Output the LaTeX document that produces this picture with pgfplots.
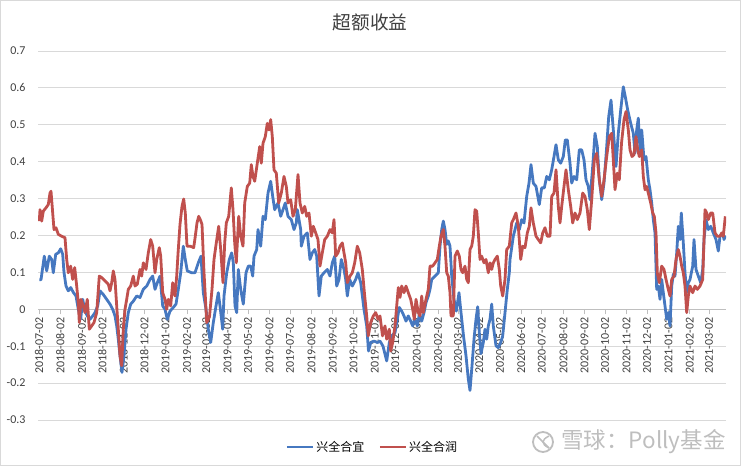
\documentclass[border=0pt]{standalone}
\usepackage{fontspec}
\setmainfont{Carlito}
\newfontfamily\cjk{Noto Sans CJK SC}
\usepackage{pgfplots}
\pgfplotsset{compat=1.18}
\usepackage{pgfplotstable}
\definecolor{sblue}{RGB}{70,120,192}
\definecolor{sred}{RGB}{192,80,77}
\definecolor{gridc}{RGB}{217,217,217}
\definecolor{axc}{RGB}{191,191,191}
\definecolor{txt}{RGB}{64,64,64}
\definecolor{wm}{RGB}{190,190,190}

% x = position along the time axis (2018-07-02 = 0; 1 unit = 1.4537 days)
\pgfplotstableread{
x y
0.3 0.080
2 0.080
5.3 0.144
7.7 0.104
10.3 0.144
12.7 0.135
14.3 0.099
16.7 0.149
19.3 0.153
21.7 0.164
23.7 0.149
25 0.100
27 0.063
29.3 0.050
31.7 0.059
34.3 0.046
37 0.036
39.3 0.000
41.7 -0.027
43.7 0.027
46 -0.005
48.3 -0.018
51 -0.027
53.7 -0.018
56 -0.009
58.7 0.009
61 0.050
64.3 0.040
67.7 0.027
71 0.014
73.7 0.000
76 -0.018
77.7 -0.045
79.3 -0.081
81 -0.126
83 -0.171
85 -0.126
87 -0.054
89.3 -0.009
91.7 0.014
94.3 0.022
97.7 0.036
101 0.032
104.3 0.054
107.7 0.063
111 0.081
113.7 0.090
116 0.054
118.3 0.072
121 0.090
123.7 0.009
126 0.000
128.3 -0.027
131 -0.005
134.3 0.005
137 0.014
139.3 0.054
141.7 0.099
144.3 0.171
146.3 0.135
148.3 0.104
152.7 0.099
156 0.099
159.3 0.126
162 0.144
164.3 0.045
167 0.000
169.3 -0.054
171.7 -0.090
174.3 -0.036
177 0.009
179.3 0.045
181 0.009
183.7 -0.054
185 0.036
187.7 0.099
190.3 0.135
192.7 0.153
194.3 0.126
196 0.009
197.7 -0.009
199.3 0.108
201.7 0.054
204.3 0.014
207 0.099
209.3 0.117
211.7 0.117
213.7 0.090
215 0.144
217.7 0.162
219 0.216
221.7 0.171
224 0.252
226.3 0.243
229 0.315
231.7 0.347
233.7 0.306
235.7 0.270
239 0.288
241.7 0.252
244 0.270
246.3 0.288
249 0.252
252.3 0.243
255 0.216
257.3 0.234
258.3 0.270
261.7 0.216
262.3 0.171
265 0.198
268.3 0.207
271 0.135
273.3 0.153
275.7 0.162
277.7 0.144
280 0.036
282.3 0.090
285 0.099
288.3 0.108
291 0.090
293.3 0.126
295.7 0.144
297.7 0.063
300 0.081
302.3 0.135
305 0.108
306.7 0.081
308.3 0.036
310.7 0.081
313.3 0.063
316.7 0.081
319 0.099
321.7 0.072
325 0.000
327.7 -0.045
329.5 -0.113
331.7 -0.090
335 -0.086
338.3 -0.090
341 -0.086
344 -0.100
347.7 -0.140
350.3 -0.090
352.7 -0.072
356 -0.063
358.3 -0.027
360.3 0.005
362.7 -0.005
365 -0.018
367 -0.032
369.3 -0.018
371.7 -0.032
373.7 -0.045
376 -0.027
378.3 -0.045
380.3 -0.014
382.7 -0.032
385 -0.009
387 0.018
389.3 0.036
391 0.054
392.7 0.081
396 0.090
399.3 0.099
401 0.171
402.7 0.216
404.3 0.239
406 0.216
407.7 0.176
409.3 0.185
411 0.171
412.7 0.090
415 0.027
417.3 -0.005
420 0.045
422 -0.009
424.5 -0.072
427 -0.126
429.3 -0.189
431 -0.220
433 -0.153
435 -0.081
437 -0.027
438.7 0.007
440.3 -0.063
442 -0.120
444.3 -0.090
446 -0.054
447.7 -0.081
449.3 -0.045
451 -0.027
452.7 0.014
454.3 -0.045
457 -0.099
459.3 -0.104
461.7 -0.090
463.7 -0.072
466 -0.009
468.3 0.054
470.3 0.099
471 0.135
474.3 0.198
477.7 0.234
480.3 0.216
482.7 0.243
485 0.234
487.7 0.306
490 0.342
492 0.392
494.3 0.342
497 0.333
500.3 0.284
502.7 0.329
505.3 0.329
507.7 0.360
510.3 0.351
512.7 0.378
515 0.414
517 0.446
519.3 0.405
521.7 0.396
524.3 0.414
526.3 0.459
528.3 0.459
531 0.396
532.7 0.342
535 0.360
537.7 0.351
540.3 0.432
542.7 0.432
545 0.405
547 0.351
549.3 0.333
551 0.297
553.7 0.387
556 0.477
558.3 0.441
560.3 0.351
562.7 0.297
565 0.342
567.7 0.441
569.7 0.522
572 0.567
574.3 0.486
577 0.387
579.3 0.477
581.7 0.540
584.3 0.603
586.3 0.576
588.7 0.540
591.7 0.504
594.3 0.477
596 0.423
597.7 0.486
599.3 0.518
601 0.432
602.7 0.486
605 0.405
607 0.414
609.3 0.351
611 0.324
612.7 0.288
614.3 0.243
616 0.207
617.7 0.054
619.3 0.063
621 0.027
622.7 0.081
624.3 0.045
626 0.009
627.7 -0.027
629.3 -0.009
631 -0.045
632.7 0.063
634.3 0.095
636 0.090
637.7 0.153
639.3 0.225
641 0.189
642.3 0.261
644.3 0.180
646 0.099
647.7 0.045
649.3 0.072
651 0.081
653.7 0.117
655 0.189
657 0.108
659.3 0.090
661.7 0.072
663.7 0.108
665 0.189
667 0.243
669.3 0.216
671.7 0.225
674.3 0.207
677 0.189
679.3 0.158
681 0.198
683.7 0.207
685 0.189
686.5 0.200
}\bluedata

\pgfplotstableread{
x y
0.3 0.239
1 0.270
2.7 0.239
4.3 0.266
7 0.275
9.3 0.284
11 0.315
12 0.320
13.7 0.261
15 0.216
17 0.221
19.3 0.203
22.7 0.198
26 0.194
27.7 0.135
29.3 0.099
31.7 0.117
33.7 0.081
35.7 0.113
37.7 0.063
39.3 0.018
40.3 -0.036
42 0.027
44.3 0.009
46 -0.009
48.3 0.027
50.3 -0.054
52.7 -0.045
55 -0.036
57.7 -0.009
60.3 0.090
62.7 0.086
66 0.077
69.3 0.068
71 0.050
72.7 0.072
74.3 0.104
76 0.081
77.7 0.009
79.3 -0.054
81 -0.126
82.7 -0.153
84.3 -0.054
86 0.000
87.7 0.027
89.3 0.054
91.7 0.063
94.3 0.090
96 0.063
98.3 0.068
101 0.108
102.7 0.090
104.3 0.126
107 0.108
109.3 0.153
111.7 0.189
113.7 0.171
116 0.099
117.7 0.135
120.3 0.167
121.7 0.144
123.7 0.045
126 0.027
127.7 0.000
129.3 0.027
131.7 0.009
133.7 0.072
136 0.036
137.7 0.090
139 0.150
141 0.230
143 0.279
144.7 0.299
146.3 0.261
148 0.171
151.3 0.171
154.7 0.167
156.3 0.198
158 0.234
159.7 0.252
161.3 0.243
163 0.230
165 0.100
166.3 0.036
167.7 -0.036
170.5 -0.020
173 0.054
175 0.135
177.3 0.180
179.7 0.225
181.7 0.162
184 0.072
185.7 0.180
187.3 0.234
189.7 0.252
192.3 0.329
194 0.270
195.7 0.180
197.3 0.126
199.7 0.252
201.7 0.198
204 0.171
205.7 0.288
208.3 0.333
210.7 0.342
212.3 0.392
214 0.360
215.7 0.347
218.3 0.396
220.7 0.441
222.3 0.396
224 0.450
226.3 0.468
228.3 0.504
230 0.486
231.7 0.514
233.3 0.468
235 0.378
237.3 0.369
239.7 0.288
242.3 0.315
245 0.360
247.3 0.333
249 0.288
251.7 0.297
254 0.252
256.3 0.270
259 0.365
261 0.288
263.3 0.261
265.7 0.279
267.7 0.252
270 0.261
272.3 0.198
274.3 0.225
276.7 0.207
279 0.189
281 0.117
283.3 0.153
285.7 0.189
288.3 0.198
291 0.216
293.3 0.207
295 0.243
296.7 0.144
299 0.153
301 0.171
303.3 0.180
305 0.153
306.7 0.126
308.3 0.072
311 0.090
313.3 0.099
315.7 0.126
318.3 0.171
320.7 0.153
323.3 0.108
325.7 0.036
327.7 -0.018
329.3 -0.072
331.7 -0.036
334.3 -0.018
336.7 -0.009
339 -0.027
341 -0.018
343.5 -0.072
346 -0.045
347.7 -0.081
350.3 -0.054
351.7 -0.113
353.7 -0.090
356 -0.045
357.7 0.009
359.3 0.059
361 0.032
362.7 0.063
365 0.045
367 0.063
369.3 0.045
371.7 0.027
373.7 0.000
375.3 -0.027
377 0.027
379.3 -0.009
381 -0.018
382.7 0.036
384.3 -0.009
387 0.027
389.3 0.054
391 0.117
393.7 0.117
396 0.126
398.3 0.135
400.3 0.171
402 0.198
404.3 0.216
406 0.171
407.7 0.099
409.3 0.090
411 0.045
412 -0.018
414.3 -0.018
416 0.144
418.3 0.158
420.3 0.144
422 0.108
423.7 0.099
426 0.117
427.7 0.081
429.3 0.072
431 0.162
432.7 0.171
434.3 0.198
436 0.270
437.7 0.266
439.3 0.207
441 0.135
442.7 0.144
445 0.126
447 0.135
449.3 0.099
451 0.126
452.7 0.108
454.3 0.126
456 0.135
458.3 0.144
460.3 0.108
461.7 0.063
463.7 0.036
466 0.081
467.7 0.162
470.3 0.171
472.7 0.234
474.3 0.243
477 0.261
479.3 0.225
481.7 0.135
483.7 0.171
486 0.167
488.3 0.207
490.3 0.225
492 0.275
494.3 0.234
497 0.198
499.3 0.189
501.7 0.180
503.7 0.207
506 0.221
508.3 0.198
511 0.198
512.7 0.306
515 0.315
517 0.378
519.3 0.279
521 0.234
522.7 0.279
525 0.333
527 0.378
529.3 0.324
531.7 0.279
533.7 0.234
536 0.261
538.3 0.243
541 0.261
543.7 0.315
546 0.306
548.3 0.270
550.3 0.216
552.7 0.297
555.3 0.405
557.7 0.423
560.3 0.351
562.7 0.306
565 0.351
567.7 0.414
570.3 0.468
572.7 0.477
574.3 0.405
576 0.324
578.3 0.369
580.3 0.351
582.5 0.450
585 0.514
587 0.536
589.3 0.486
591 0.432
593 0.414
595 0.419
597 0.468
598.7 0.432
600.3 0.414
602.7 0.432
604.3 0.360
606 0.324
607.7 0.333
609.3 0.315
611.7 0.288
613.7 0.261
615.3 0.252
617 0.207
618.3 0.099
620.3 0.072
622.7 0.117
625 0.108
627 0.081
629.3 0.054
631 0.036
632.7 0.081
635 0.090
637 0.135
639.3 0.162
641 0.144
642.7 0.117
644.3 0.099
646 0.063
647.7 -0.009
649.3 0.036
651 0.063
653.7 0.045
656 0.063
658.3 0.054
661 0.063
663.7 0.081
666 0.270
667.7 0.261
669.3 0.243
671.7 0.261
673.7 0.261
676 0.207
678.3 0.198
681 0.198
682.7 0.207
684.3 0.198
686.3 0.252
}\reddata

\begin{document}
\begin{tikzpicture}[x=1pt,y=1pt]
\useasboundingbox (0,0) rectangle (741,466);
\draw[gridc, line width=0.8pt] (0.5,0.5) rectangle (740.5,465.5);
\begin{axis}[
  at={(38pt,46pt)}, anchor=south west,
  scale only axis, width=688pt, height=369pt,
  xmin=-1, xmax=687, ymin=-0.3, ymax=0.7,
  axis x line=middle, axis y line=left,
  x axis line style={draw=axc, line width=0.8pt, -},
  y axis line style={draw=none},
  tick align=outside,
  major tick length=5pt,
  xtick style={draw=axc, line width=0.8pt},
  ytick style={draw=none},
  ytick={-0.3,-0.2,-0.1,0,0.1,0.2,0.3,0.4,0.5,0.6,0.7},
  ymajorgrids,
  grid style={gridc, line width=0.8pt},
  /pgf/number format/.cd, fixed, precision=1, assume math mode=true,
  /pgfplots/.cd,
  yticklabel style={font=\fontsize{12}{12}\selectfont, text=txt, xshift=-4pt},
  xtick={0,21.3,42.7,63.3,84.6,105.2,126.6,147.9,167.2,188.5,209.1,230.4,251.1,272.4,293.7,314.4,335.7,356.3,377.7,399.0,418.9,440.3,460.9,482.2,502.8,524.2,545.5,566.1,587.5,608.1,629.4,650.8,670.0},
  xticklabels={2018-07-02,2018-08-02,2018-09-02,2018-10-02,2018-11-02,2018-12-02,2019-01-02,2019-02-02,2019-03-02,2019-04-02,2019-05-02,2019-06-02,2019-07-02,2019-08-02,2019-09-02,2019-10-02,2019-11-02,2019-12-02,2020-01-02,2020-02-02,2020-03-02,2020-04-02,2020-05-02,2020-06-02,2020-07-02,2020-08-02,2020-09-02,2020-10-02,2020-11-02,2020-12-02,2021-01-02,2021-02-02,2021-03-02},
  xticklabel style={rotate=90, anchor=east, font=\fontsize{12}{12}\selectfont, text=txt},
  legend style={at={(0.486,-0.073)}, anchor=center, draw=none, fill=none,
    font=\cjk\fontsize{12}{12}\selectfont, text=black},
  legend columns=2,
  legend cell align=left,
  legend image code/.code={\draw[#1] (0pt,0pt) -- (26pt,0pt);},
  /tikz/every even column/.append style={column sep=12pt},
]
\addplot[sblue, line width=2.8pt, line join=round] table[x=x,y=y] {\bluedata};
\addlegendentry{兴全合宜}
\addplot[sred, line width=2.8pt, line join=round] table[x=x,y=y] {\reddata};
\addlegendentry{兴全合润}
\end{axis}
\node[font=\cjk\fontsize{18.7}{18.7}\selectfont, text=txt] at (370,444) {超额收益};
\draw[wm, line width=1.8pt] (543,24) circle (10);
\draw[wm, line width=1.5pt] (537,30) .. controls (543,24) .. (549,18);
\draw[wm, line width=1.5pt] (549,30) .. controls (541,26) and (541,22) .. (549,18);
\node[font=\cjk\fontsize{22.5}{22.5}\selectfont, text=wm, anchor=west, inner sep=0pt] at (561,24) {雪球：Polly基金};
\end{tikzpicture}
\end{document}
